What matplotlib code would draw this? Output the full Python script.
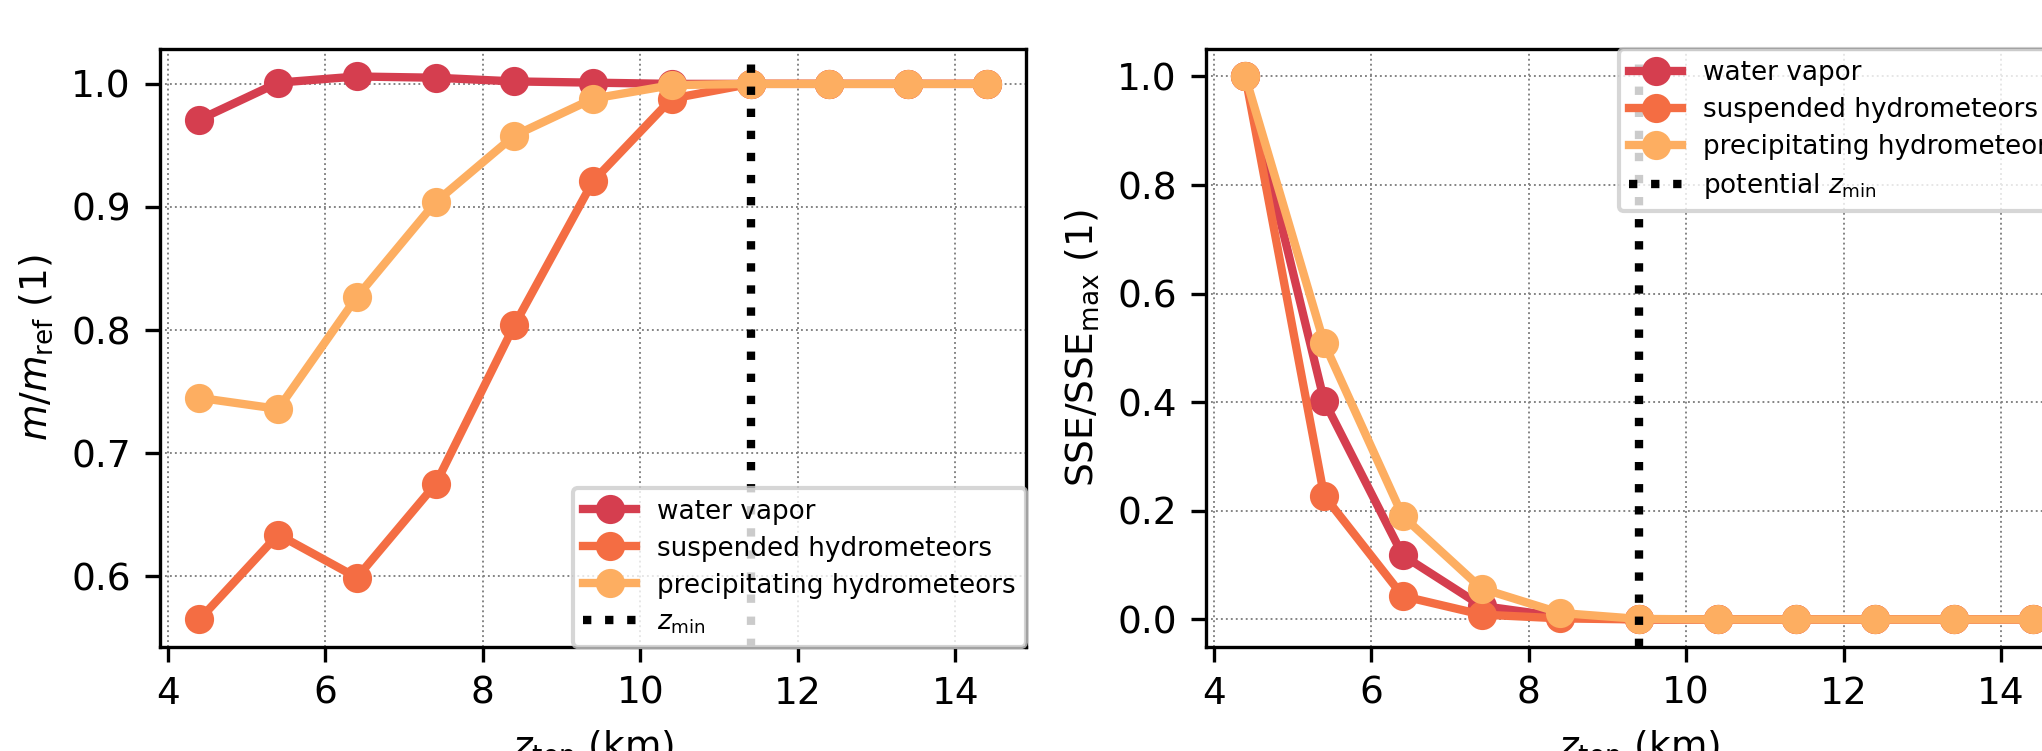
import numpy as np
import matplotlib
matplotlib.use('Agg')
import matplotlib.pyplot as plt

# z_top of the truncated model levels (km)
z_top = [4.4, 5.4, 6.4, 7.4, 8.4, 9.4, 10.4, 11.4, 12.4, 13.4, 14.4]

# left: mass relative to reference
mass_vapor      = [0.971, 1.001, 1.006, 1.005, 1.002, 1.001, 1.000, 1.000, 1.000, 1.000, 1.000]
mass_suspended  = [0.565, 0.634, 0.599, 0.675, 0.804, 0.921, 0.988, 1.000, 1.000, 1.000, 1.000]
mass_precip     = [0.745, 0.736, 0.827, 0.904, 0.958, 0.988, 0.999, 1.000, 1.000, 1.000, 1.000]

# right: normalised sum of squared errors
sse_vapor       = [1.000, 0.403, 0.118, 0.025, 0.005, 0.000, 0.000, 0.000, 0.000, 0.000, 0.000]
sse_suspended   = [1.000, 0.228, 0.043, 0.009, 0.002, 0.000, 0.000, 0.000, 0.000, 0.000, 0.000]
sse_precip      = [1.000, 0.509, 0.190, 0.057, 0.012, 0.001, 0.000, 0.000, 0.000, 0.000, 0.000]

z_min_mass = 11.4
z_min_sse  = 9.4

names  = ['water vapor', 'suspended hydrometeors', 'precipitating hydrometeors']
colors = ['#d53e4f', '#f46d43', '#fdae61']

plt.rcParams['font.size'] = 9
plt.rcParams['mathtext.default'] = 'it'

fig = plt.figure(figsize=(2042 / 300.0, 751 / 300.0), dpi=300)
ax1 = fig.add_axes([0.0784, 0.139, 0.4241, 0.7953])
ax2 = fig.add_axes([0.5906, 0.139, 0.4241, 0.7953])


def draw(ax, series, z_min, vline_label, ylabel, legend_loc):
    ax.grid(True, linestyle=':', color='gray', linewidth=0.45)
    for y, name, c in zip(series, names, colors):
        ax.plot(z_top, y, '-o', color=c, linewidth=2, markersize=6, label=name)
    ax.axvline(z_min, color='k', linestyle=':', linewidth=2, label=vline_label)
    ax.set_xlabel(r'$z_\mathrm{top}$ (km)')
    ax.set_ylabel(ylabel)
    ax.set_xticks([4, 6, 8, 10, 12, 14])
    ax.legend(loc=legend_loc, fontsize=6.3, borderaxespad=0.0, labelspacing=0.42)


draw(ax1, [mass_vapor, mass_suspended, mass_precip], z_min_mass,
     r'$z_\mathrm{min}$', r'$m/m_\mathrm{ref}$ (1)', 'lower right')
draw(ax2, [sse_vapor, sse_suspended, sse_precip], z_min_sse,
     r'potential $z_\mathrm{min}$', r'SSE/SSE$_\mathrm{max}$ (1)', 'upper right')

plt.savefig('out.png', dpi=300)
